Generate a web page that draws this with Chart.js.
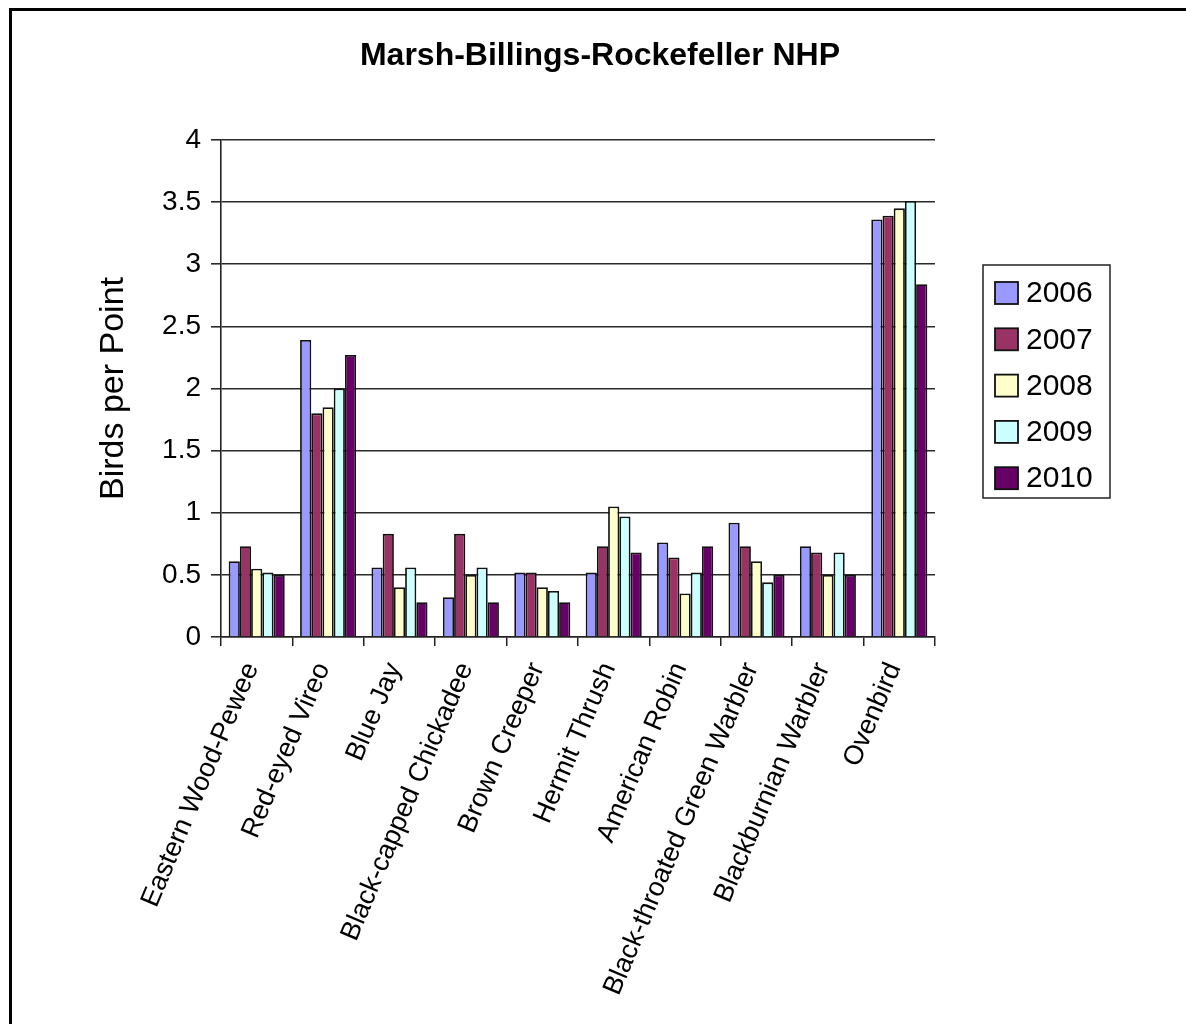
<!DOCTYPE html>
<html>
<head>
<meta charset="utf-8">
<script src="https://cdn.jsdelivr.net/npm/chart.js@4/dist/chart.umd.min.js"></script>
<style>
  html, body { margin: 0; padding: 0; background: #fff; }
  #wrap { position: relative; width: 1186px; height: 1024px; overflow: hidden; }
  #frame { position: absolute; left: 9px; top: 8px; width: 1300px; height: 1200px;
           border-left: 3px solid #000; border-top: 3px solid #000; box-sizing: border-box; }
  canvas { position: absolute; left: 0; top: 0; }
</style>
</head>
<body>
<div id="wrap">
  <div id="frame"></div>
  <canvas id="c" width="1186" height="1024"></canvas>
</div>
<script>
const chartTitle = "Marsh-Billings-Rockefeller NHP";
const categories = [
  "Eastern Wood-Pewee", "Red-eyed Vireo", "Blue Jay", "Black-capped Chickadee",
  "Brown Creeper", "Hermit Thrush", "American Robin", "Black-throated Green Warbler",
  "Blackburnian Warbler", "Ovenbird"
];
const years = ["2006", "2007", "2008", "2009", "2010"];
const v2006 = [0.61, 2.39, 0.56, 0.32, 0.52, 0.52, 0.76, 0.92, 0.73, 3.36];
const v2007 = [0.73, 1.80, 0.83, 0.83, 0.52, 0.73, 0.64, 0.73, 0.68, 3.39];
const v2008 = [0.55, 1.85, 0.40, 0.50, 0.40, 1.05, 0.35, 0.61, 0.50, 3.45];
const v2009 = [0.52, 2.00, 0.56, 0.56, 0.37, 0.97, 0.52, 0.44, 0.68, 3.51];
const v2010 = [0.50, 2.27, 0.28, 0.28, 0.28, 0.68, 0.73, 0.50, 0.50, 2.84];
const yTicks = [0, 0.5, 1, 1.5, 2, 2.5, 3, 3.5, 4];
const colors = ["#9999FF", "#993366", "#FFFFCC", "#CCFFFF", "#660066"];
const seriesValues = [v2006, v2007, v2008, v2009, v2010];

const FONT = "'Liberation Sans', Arial, Helvetica, sans-serif";

const decorPlugin = {
  id: 'decor',
  afterDraw(chart) {
    const ctx = chart.ctx;
    ctx.save();
    // title
    ctx.fillStyle = '#000';
    ctx.font = "bold 32px " + FONT;
    ctx.textAlign = 'center';
    ctx.textBaseline = 'middle';
    ctx.fillText(chartTitle, 600, 56);
    // legend
    const x0 = 983, y0 = 265, w = 127, h = 233;
    ctx.strokeStyle = '#222';
    ctx.lineWidth = 1.5;
    ctx.strokeRect(x0, y0, w, h);
    ctx.font = "30px " + FONT;
    ctx.textBaseline = 'middle';
    ctx.textAlign = 'left';
    chart.data.datasets.forEach((ds, i) => {
      const cy = 293 + i * 46.3;
      ctx.fillStyle = ds.backgroundColor;
      ctx.fillRect(995, cy - 11, 23, 22);
      ctx.strokeStyle = '#111';
      ctx.lineWidth = 1.8;
      ctx.strokeRect(995, cy - 11, 23, 22);
      ctx.fillStyle = '#000';
      ctx.fillText(ds.label, 1026, cy + 1);
    });
    ctx.restore();
  }
};

new Chart(document.getElementById('c'), {
  type: 'bar',
  data: {
    labels: categories,
    datasets: years.map((y, i) => ({
      label: y,
      data: seriesValues[i],
      backgroundColor: colors[i],
      borderColor: '#111',
      borderWidth: 1.8,
      barPercentage: 1.0,
      categoryPercentage: 0.785
    }))
  },
  options: {
    responsive: false,
    animation: false,
    devicePixelRatio: 1,
    layout: { padding: { left: 0, right: 251, top: 140, bottom: 0 } },
    plugins: {
      legend: { display: false },
      tooltip: { enabled: false },
      title: { display: false }
    },
    scales: {
      x: {
        offset: true,
        grid: { display: true, drawOnChartArea: false, offset: true, color: '#222', lineWidth: 1.5, tickLength: 9 },
        border: { display: true, color: '#222', width: 1.5 },
        ticks: {
          autoSkip: false,
          minRotation: 67, maxRotation: 67,
          color: '#000',
          padding: 12,
          labelOffset: -5,
          font: { family: FONT, size: 27 }
        },
        afterFit(scale) { scale.height = 1024 - 637; }
      },
      y: {
        min: 0, max: 4,
        afterBuildTicks(scale) { scale.ticks = yTicks.map(v => ({ value: v })); },
        grid: { color: '#2a2a2a', lineWidth: 1.6, tickLength: 10 },
        border: { display: true, color: '#222', width: 1.6 },
        ticks: {
          color: '#000',
          padding: 10,
          font: { family: FONT, size: 28 },
          callback: (v) => String(v)
        },
        title: {
          display: true,
          text: 'Birds per Point',
          color: '#000',
          font: { family: FONT, size: 34 },
          padding: { top: 93, bottom: 0 }
        },
        afterFit(scale) { scale.width = 221; }
      }
    }
  },
  plugins: [decorPlugin]
});
</script>
</body>
</html>
